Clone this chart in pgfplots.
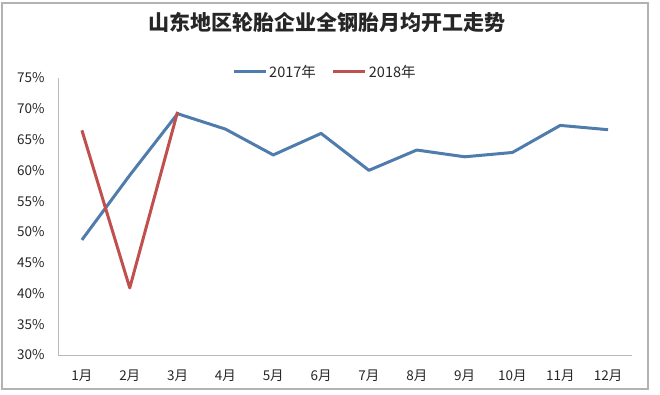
\documentclass[border=0pt]{standalone}
\usepackage{fontspec}
\setmainfont{Noto Sans CJK SC}
\usepackage{pgfplots}
\pgfplotsset{compat=1.18}
\definecolor{blueline}{HTML}{4F7CAC}
\definecolor{redline}{HTML}{C0504D}
\begin{document}
\begin{tikzpicture}
\path[use as bounding box] (0pt,0pt) rectangle (660pt,394pt);
\draw[gray!60, line width=1.2pt] (2pt,5pt) rectangle (648pt,391pt);
\node[font=\fontsize{21}{24}\selectfont\bfseries, text=black!85] at (327pt,372pt) {山东地区轮胎企业全钢胎月均开工走势};
\begin{axis}[
  at={(58pt,39pt)}, anchor=south west, scale only axis,
  width=574pt, height=277pt,
  xmin=0.5, xmax=12.5, ymin=30, ymax=75,
  ytick={30,35,...,75},
  yticklabel={\pgfmathparse{int(\tick)}\pgfmathresult\%},
  xtick={1,...,12},
  xticklabels={1月,2月,3月,4月,5月,6月,7月,8月,9月,10月,11月,12月},
  axis x line*=bottom, axis y line*=left,
  axis line style={-, gray!55, line width=1pt},
  major tick style={draw=none},
  tick label style={font=\fontsize{13.5}{15}\selectfont, text=black!85},
  yticklabel style={xshift=-10pt},
  xticklabel style={yshift=-11pt},
  legend style={at={(0.465,1.022)}, anchor=center, draw=none, fill=none,
    font=\fontsize{14.5}{16}\selectfont, text=black!85, legend columns=2,
    /tikz/every even column/.append style={column sep=14pt}},
  legend image code/.code={\draw[#1, line width=3pt] (0pt,0pt) -- (32pt,0pt);},
]
\addplot[blueline, line width=3pt, line join=round] coordinates {
(1,48.7) (2,59.2) (3,69.2) (4,66.7) (5,62.5) (6,66.0) (7,60.0) (8,63.3) (9,62.2) (10,62.9) (11,67.3) (12,66.6)};
\addlegendentry{2017年}
\addplot[redline, line width=3pt, line join=round] coordinates {
(1,66.5) (2,40.9) (3,69.5)};
\addlegendentry{2018年}
\end{axis}
\end{tikzpicture}
\end{document}
